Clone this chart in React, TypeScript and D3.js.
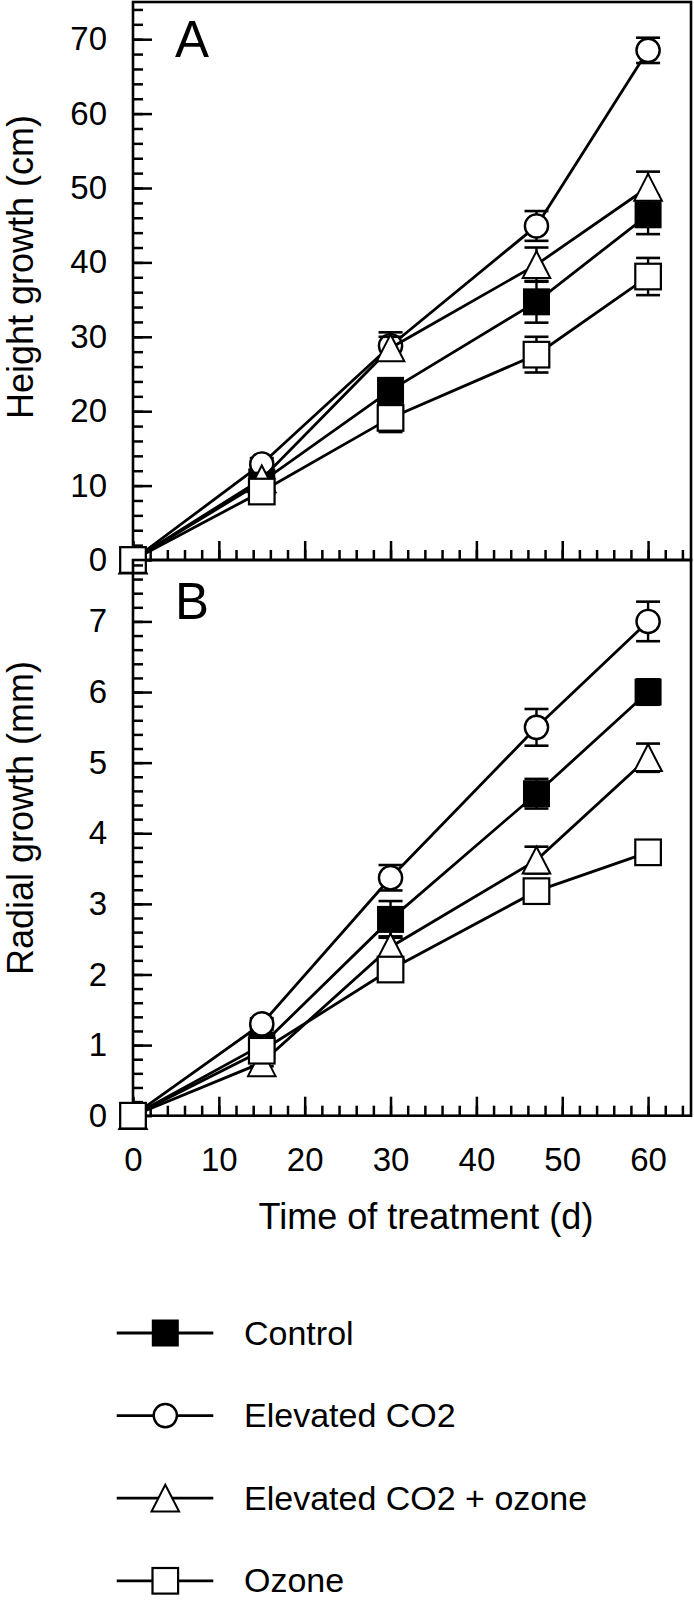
import React, { useEffect, useRef } from "react";
import * as d3 from "d3";

// time points (days of treatment)
const days = [0, 15, 30, 47, 60];

const seriesNames = ["Control", "Elevated CO2", "Elevated CO2 + ozone", "Ozone"];
const seriesSymbols = ["filledSquare", "circle", "triangle", "square"];

// Panel A: height growth (cm)
const heightControl = [0, 10.5, 22.8, 34.7, 46.4];
const heightCO2 = [0, 12.9, 28.8, 44.9, 68.5];
const heightCO2Ozone = [0, 10.9, 28.5, 39.7, 50.1];
const heightOzone = [0, 9.2, 19.1, 27.6, 38.1];

const heightControlErr = [0, 0.8, 1.2, 2.8, 2.6];
const heightCO2Err = [0, 0.8, 1.8, 2.0, 1.7];
const heightCO2OzoneErr = [0, 0.8, 1.5, 2.3, 2.1];
const heightOzoneErr = [0, 0.8, 1.9, 2.4, 2.5];

// Panel B: radial growth (mm)
const radialControl = [0, 1.0, 2.78, 4.56, 6.0];
const radialCO2 = [0, 1.3, 3.37, 5.5, 7.0];
const radialCO2Ozone = [0, 0.75, 2.39, 3.62, 5.07];
const radialOzone = [0, 0.92, 2.07, 3.18, 3.73];

const radialControlErr = [0, 0.05, 0.26, 0.21, 0.18];
const radialCO2Err = [0, 0.08, 0.18, 0.26, 0.28];
const radialCO2OzoneErr = [0, 0.05, 0.15, 0.19, 0.2];
const radialOzoneErr = [0, 0.05, 0.1, 0.1, 0.1];

// tick labels
const xTicks = [0, 10, 20, 30, 40, 50, 60];
const heightTicks = [0, 10, 20, 30, 40, 50, 60, 70];
const radialTicks = [0, 1, 2, 3, 4, 5, 6, 7];

const FONT = "'Liberation Sans', Arial, sans-serif";

function drawMarker(g, type, cx, cy) {
  if (type === "filledSquare") {
    g.append("rect")
      .attr("x", cx - 13.5).attr("y", cy - 13.5)
      .attr("width", 27).attr("height", 27)
      .attr("fill", "#000");
  } else if (type === "square") {
    g.append("rect")
      .attr("x", cx - 12.8).attr("y", cy - 12.8)
      .attr("width", 25.6).attr("height", 25.6)
      .attr("fill", "#fff").attr("stroke", "#000").attr("stroke-width", 2.2);
  } else if (type === "circle") {
    g.append("circle")
      .attr("cx", cx).attr("cy", cy).attr("r", 11.6)
      .attr("fill", "#fff").attr("stroke", "#000").attr("stroke-width", 2.4);
  } else {
    g.append("path")
      .attr("d", `M${cx},${cy - 13.4}L${cx + 13.8},${cy + 13.4}L${cx - 13.8},${cy + 13.4}Z`)
      .attr("fill", "#fff").attr("stroke", "#000").attr("stroke-width", 2)
      .attr("stroke-linejoin", "miter");
  }
}

function drawPanel(svg, x, y, opts) {
  const g = svg.append("g");
  const [left, right] = x.range();
  const [bottom, top] = y.range();

  // minor ticks first, then major ticks with labels (all pointing inward)
  const yMinor = d3.axisLeft(y).tickValues(opts.yMinor).tickSize(-10).tickFormat(() => "");
  const yMajor = d3.axisLeft(y).tickValues(opts.yMajor).tickSize(-19).tickPadding(26)
    .tickFormat(d3.format("d"));
  const xMinor = d3.axisBottom(x).tickValues(d3.range(0, 65, 2)).tickSize(-10).tickFormat(() => "");
  const xMajor = d3.axisBottom(x).tickValues(xTicks).tickSize(-19).tickPadding(32)
    .tickFormat(opts.xLabels ? d3.format("d") : () => "");

  [yMinor, yMajor].forEach((ax) => {
    g.append("g").attr("transform", `translate(${left},0)`).call(ax);
  });
  [xMinor, xMajor].forEach((ax) => {
    g.append("g").attr("transform", `translate(0,${bottom})`).call(ax);
  });
  g.selectAll(".domain").remove();
  g.selectAll(".tick line").attr("stroke-width", 2.5).attr("stroke", "#000");
  g.selectAll(".tick text")
    .attr("font-family", FONT).attr("font-size", 33).attr("fill", "#000");

  // frame
  g.append("rect")
    .attr("x", left).attr("y", top)
    .attr("width", right - left).attr("height", bottom - top)
    .attr("fill", "none").attr("stroke", "#000").attr("stroke-width", 2.6);

  // series: line, error bars, markers
  const line = d3.line().x((d) => x(d[0])).y((d) => y(d[1]));
  opts.values.forEach((vals, i) => {
    const pts = days.map((d, j) => [d, vals[j]]);
    g.append("path")
      .attr("d", line(pts))
      .attr("fill", "none").attr("stroke", "#000").attr("stroke-width", 2.8);

    const errs = opts.errors[i];
    pts.forEach(([d, v], j) => {
      if (!errs[j]) return;
      const cx = x(d);
      const y1 = y(v + errs[j]);
      const y2 = y(v - errs[j]);
      g.append("line").attr("x1", cx).attr("x2", cx).attr("y1", y1).attr("y2", y2)
        .attr("stroke", "#000").attr("stroke-width", 2.4);
      [y1, y2].forEach((yy) => {
        g.append("line").attr("x1", cx - 12).attr("x2", cx + 12).attr("y1", yy).attr("y2", yy)
          .attr("stroke", "#000").attr("stroke-width", 2.6);
      });
    });

    pts.forEach(([d, v]) => drawMarker(g, seriesSymbols[i], x(d), y(v)));
  });

  // panel letter
  g.append("text")
    .attr("x", left + 42).attr("y", top + opts.letterDy)
    .attr("font-family", FONT).attr("font-size", 51).attr("fill", "#000")
    .text(opts.letter);

  // y axis title
  g.append("text")
    .attr("transform", `translate(33,${opts.titleY}) rotate(-90)`)
    .attr("text-anchor", "middle")
    .attr("font-family", FONT).attr("font-size", 36).attr("fill", "#000")
    .text(opts.title);
}

function App() {
  const ref = useRef(null);

  useEffect(() => {
    const svg = d3.select(ref.current);
    svg.selectAll("*").remove();

    const x = d3.scaleLinear().domain([0, 65]).range([133, 691]);
    const yHeight = d3.scaleLinear().domain([0, 75]).range([560, 2]);
    const yRadial = d3.scaleLinear().domain([0, 7.87]).range([1115.7, 560]);

    drawPanel(svg, x, yHeight, {
      yMajor: heightTicks,
      yMinor: d3.range(0, 75, 2),
      xLabels: false,
      values: [heightControl, heightCO2, heightCO2Ozone, heightOzone],
      errors: [heightControlErr, heightCO2Err, heightCO2OzoneErr, heightOzoneErr],
      letter: "A",
      letterDy: 55,
      title: "Height growth (cm)",
      titleY: 267,
    });

    drawPanel(svg, x, yRadial, {
      yMajor: radialTicks,
      yMinor: d3.range(0, 7.85, 0.2),
      xLabels: true,
      values: [radialControl, radialCO2, radialCO2Ozone, radialOzone],
      errors: [radialControlErr, radialCO2Err, radialCO2OzoneErr, radialOzoneErr],
      letter: "B",
      letterDy: 59,
      title: "Radial growth (mm)",
      titleY: 818,
    });

    // x axis title
    svg.append("text")
      .attr("x", 426).attr("y", 1229)
      .attr("text-anchor", "middle")
      .attr("font-family", FONT).attr("font-size", 36).attr("fill", "#000")
      .text("Time of treatment (d)");

    // legend
    const legend = svg.append("g");
    seriesNames.forEach((name, i) => {
      const ly = 1333 + i * 82.6;
      legend.append("line")
        .attr("x1", 116.7).attr("x2", 213.3).attr("y1", ly).attr("y2", ly)
        .attr("stroke", "#000").attr("stroke-width", 2.8);
      drawMarker(legend, seriesSymbols[i], 165.3, ly);
      legend.append("text")
        .attr("x", 244).attr("y", ly + 11.5)
        .attr("font-family", FONT).attr("font-size", 34).attr("fill", "#000")
        .text(name);
    });
  }, []);

  return (
    <svg
      ref={ref}
      width={694}
      height={1600}
      style={{ position: "absolute", left: 0, top: 0, background: "#fff" }}
    />
  );
}

export default App;
